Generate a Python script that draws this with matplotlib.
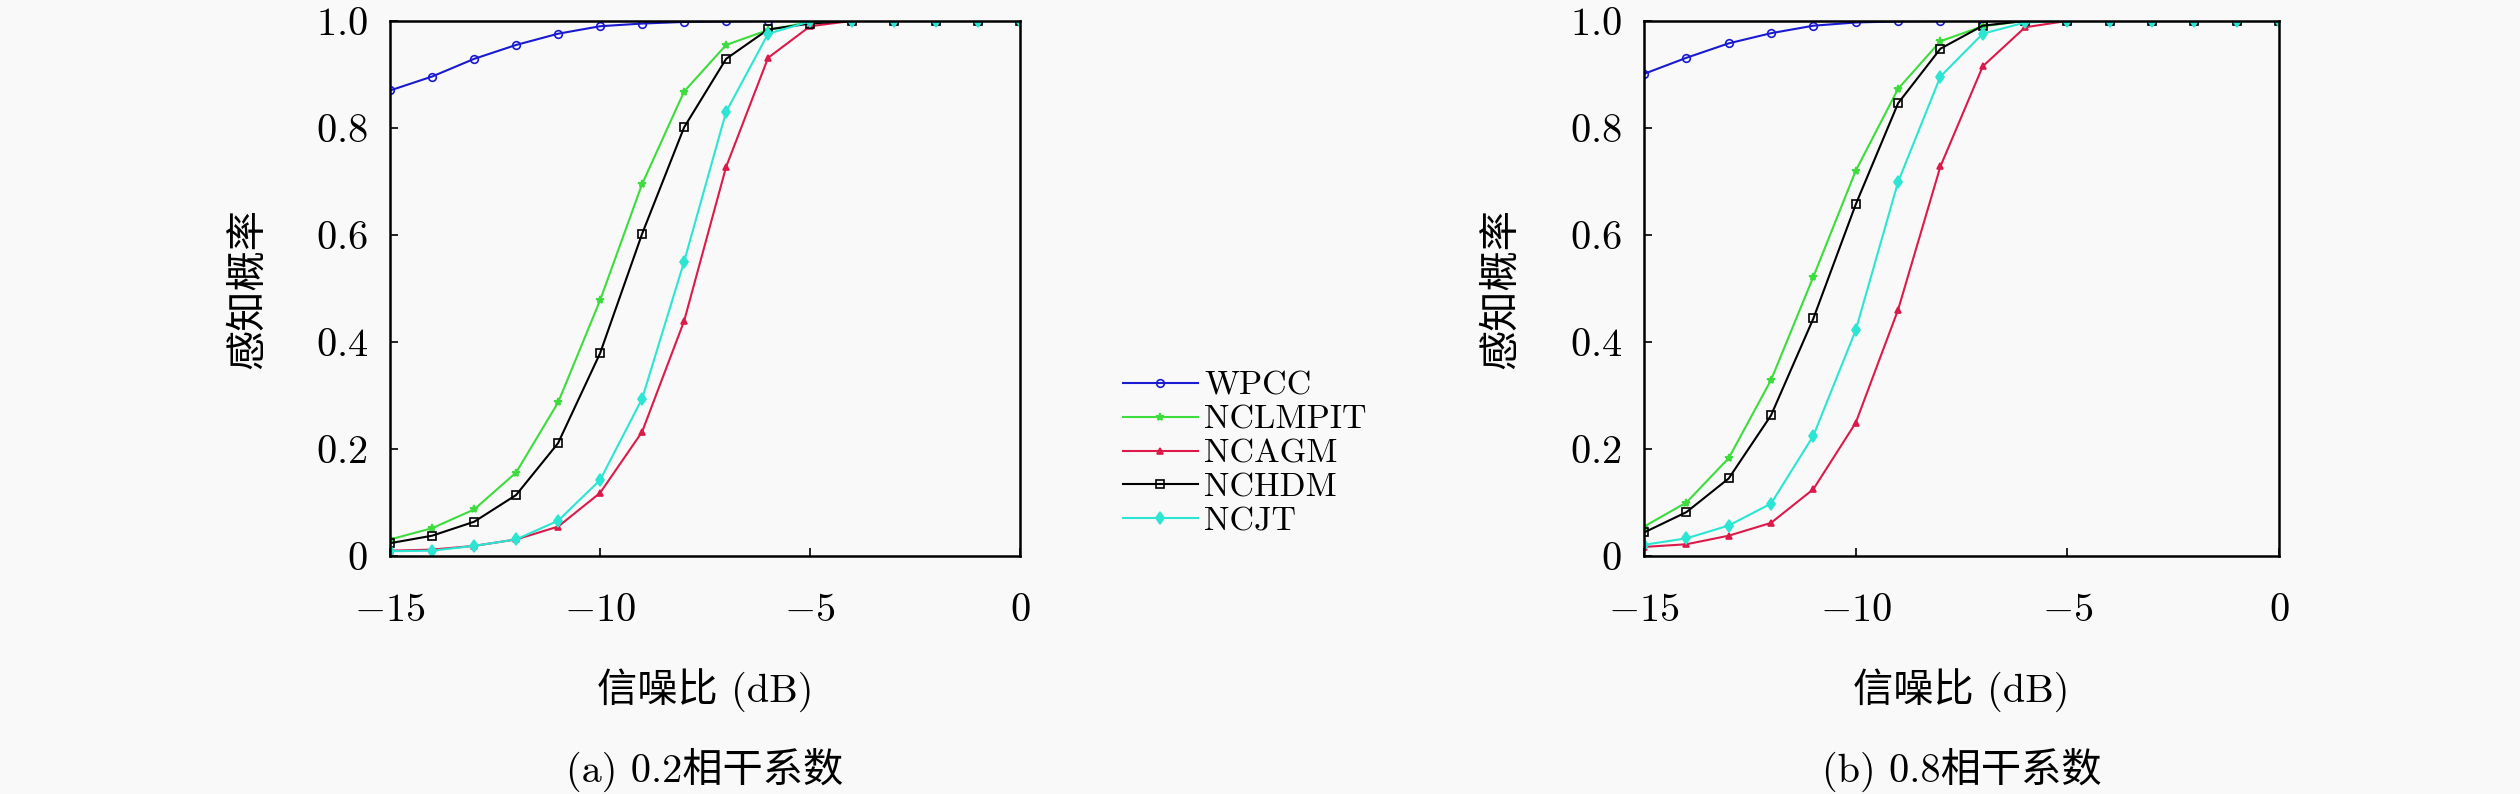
import matplotlib
matplotlib.use('Agg')
import matplotlib.pyplot as plt

plt.rcParams['font.family'] = ['cmr10', 'Noto Sans CJK SC']
plt.rcParams['mathtext.fontset'] = 'cm'
plt.rcParams['axes.unicode_minus'] = True

snr = [-15, -14, -13, -12, -11, -10, -9, -8, -7, -6, -5, -4, -3, -2, -1, 0]
names = ['WPCC', 'NCLMPIT', 'NCAGM', 'NCHDM', 'NCJT']

# (a) 0.2 coherence coefficient
wpcc_a = [0.870, 0.896, 0.929, 0.955, 0.976, 0.990, 0.995, 0.998, 0.999, 1.0, 1.0, 1.0, 1.0, 1.0, 1.0, 1.0]
nclmpit_a = [0.031, 0.052, 0.087, 0.156, 0.287, 0.478, 0.695, 0.868, 0.955, 0.983, 0.998, 1.0, 1.0, 1.0, 1.0, 1.0]
ncagm_a = [0.010, 0.012, 0.019, 0.031, 0.055, 0.118, 0.232, 0.439, 0.727, 0.931, 0.990, 1.0, 1.0, 1.0, 1.0, 1.0]
nchdm_a = [0.024, 0.038, 0.064, 0.114, 0.211, 0.379, 0.602, 0.801, 0.929, 0.984, 0.995, 1.0, 1.0, 1.0, 1.0, 1.0]
ncjt_a = [0.009, 0.010, 0.019, 0.031, 0.066, 0.142, 0.294, 0.550, 0.830, 0.976, 0.999, 1.0, 1.0, 1.0, 1.0, 1.0]

# (b) 0.8 coherence coefficient
wpcc_b = [0.901, 0.931, 0.958, 0.977, 0.991, 0.997, 0.999, 1.0, 1.0, 1.0, 1.0, 1.0, 1.0, 1.0, 1.0, 1.0]
nclmpit_b = [0.055, 0.100, 0.183, 0.329, 0.522, 0.720, 0.873, 0.962, 0.990, 1.0, 1.0, 1.0, 1.0, 1.0, 1.0, 1.0]
ncagm_b = [0.017, 0.022, 0.038, 0.062, 0.125, 0.249, 0.460, 0.728, 0.915, 0.988, 1.0, 1.0, 1.0, 1.0, 1.0, 1.0]
nchdm_b = [0.044, 0.082, 0.145, 0.263, 0.444, 0.657, 0.846, 0.948, 0.991, 1.0, 1.0, 1.0, 1.0, 1.0, 1.0, 1.0]
ncjt_b = [0.021, 0.033, 0.057, 0.098, 0.225, 0.422, 0.699, 0.896, 0.976, 0.997, 1.0, 1.0, 1.0, 1.0, 1.0, 1.0]

colors = ['#1a1ad0', '#3ddc3d', '#dc1a4a', '#000000', '#2ae6d2']
markers = ['o', '*', '^', 's', 'd']
mfcs = ['none', '#3ddc3d', '#dc1a4a', 'none', '#2ae6d2']
msizes = [5.5, 6, 4, 6, 6]

xticks = [-15, -10, -5, 0]
xticklabels = ['$-15$', '$-10$', '$-5$', '$0$']
yticks = [0, 0.2, 0.4, 0.6, 0.8, 1.0]
yticklabels = ['$0$', '$0.2$', '$0.4$', '$0.6$', '$0.8$', '$1.0$']

fs = 29
bg = '#f9f9f9'
fig = plt.figure(figsize=(25.2, 7.94), dpi=100, facecolor=bg)
ax_a = fig.add_axes([0.1548, 0.2997, 0.25, 0.674])
ax_b = fig.add_axes([0.6524, 0.2997, 0.252, 0.674])

panels = [
    (ax_a, [wpcc_a, nclmpit_a, ncagm_a, nchdm_a, ncjt_a], '(a) 0.2相干系数'),
    (ax_b, [wpcc_b, nclmpit_b, ncagm_b, nchdm_b, ncjt_b], '(b) 0.8相干系数'),
]

for ax, series, caption in panels:
    ax.set_facecolor(bg)
    for i, ys in enumerate(series):
        ax.plot(snr, ys, color=colors[i], marker=markers[i], mfc=mfcs[i],
                mec=colors[i], ms=msizes[i], lw=1.5, mew=1.2, label=names[i])
    ax.set_xlim(-15, 0)
    ax.set_ylim(0, 1)
    ax.set_xticks(xticks)
    ax.set_xticklabels(xticklabels)
    ax.set_yticks(yticks)
    ax.set_yticklabels(yticklabels)
    ax.tick_params(direction='in', length=6, width=1.2, labelsize=fs)
    ax.tick_params(axis='x', pad=27)
    ax.tick_params(axis='y', pad=16)
    for s in ax.spines.values():
        s.set_linewidth(1.8)
    ax.set_xlabel('信噪比 (dB)', fontsize=fs)
    ax.xaxis.set_label_coords(0.5, -0.21)
    ax.set_ylabel('感知概率', fontsize=fs)
    ax.yaxis.set_label_coords(-0.195, 0.5)
    ax.text(0.5, -0.40, caption, transform=ax.transAxes, ha='center',
            va='center', fontsize=fs)

handles, labels = ax_a.get_legend_handles_labels()
fig.legend(handles, labels, loc='upper left', bbox_to_anchor=(0.4455, 0.533),
           frameon=False, fontsize=24.5, handlelength=2.2, handletextpad=0.2,
           labelspacing=0.12, borderpad=0, borderaxespad=0)

fig.savefig('out.png', dpi=100, facecolor=bg)
